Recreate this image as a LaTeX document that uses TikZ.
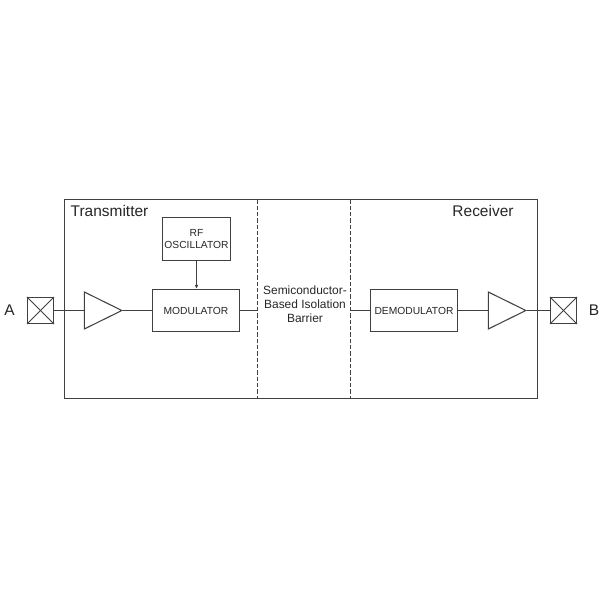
\documentclass[tikz,border=0pt]{standalone}
\usepackage{fontspec}
\setmainfont{Liberation Sans}
\usetikzlibrary{arrows.meta,shapes.geometric}
\definecolor{inkline}{HTML}{404040}
\definecolor{inktext}{HTML}{262626}
\tikzset{
	every node/.append style={text=inktext},
	wire/.style = {draw=inkline, line width=0.75pt},
	block/.style = {
			rectangle,
			draw=inkline,
			line width=0.75pt,
			inner sep=0pt,
			align=center,
			font=\fontsize{7.3}{9.2}\selectfont,
		},
	pad/.style = {
			rectangle,
			draw=inkline,
			line width=0.75pt,
			inner sep=0pt,
			minimum size=0.65cm,
		},
	amp/.style = {
			isosceles triangle,
			isosceles triangle stretches,
			draw=inkline,
			line width=0.75pt,
			inner sep=0pt,
			minimum width=0.925cm,
			minimum height=0.9375cm,
			anchor=apex,
		},
	title/.style = {font=\fontsize{11}{13}\selectfont, inner sep=0pt},
}
\begin{document}
\begin{tikzpicture}
		\useasboundingbox (0,0) rectangle (15,15);

		\node[block,minimum width=11.825cm,minimum height=4.975cm] at (7.525,7.525) (chip) {};
		\node[title] at (2.7375,9.725) (transmitter) {Transmitter};
		\node[title] at (12.075,9.725) (receiver) {Receiver};

		\node[pad] at (1.0125,7.2375) (pada) {};
		\node[pad] at (14.0875,7.2375) (padb) {};
		\node[title] at (0.2375,7.25) (labela) {A};
		\node[title] at (14.85,7.25) (labelb) {B};

		\node[amp] at (3.08,7.2375) (amptx) {};
		\node[amp] at (13.18,7.2375) (amprx) {};

		\node[block,minimum width=2.175cm,minimum height=1.05cm] at (4.9,7.2375) (modulator) {MODULATOR};
		\node[block,minimum width=1.7cm,minimum height=1.075cm] at (4.9125,9.025) (oscillator) {RF\\OSCILLATOR};
		\node[block,minimum width=2.175cm,minimum height=1.05cm] at (10.35,7.2375) (demodulator) {DEMODULATOR};

		\node[align=center,inner sep=0pt,font=\fontsize{8.5}{10}\selectfont] at (7.625,7.4) (barrier) {Semiconductor-\\Based Isolation\\Barrier};

		\coordinate (bartopl) at (6.4375,10.0125);
		\coordinate (barbotl) at (6.4375,5.0375);
		\coordinate (bartopr) at (8.7625,10.0125);
		\coordinate (barbotr) at (8.7625,5.0375);
		\coordinate (barinl) at (6.4375,7.2375);
		\coordinate (barinr) at (8.7625,7.2375);

		\draw[wire,dash pattern=on 3pt off 1.5pt] (bartopl) -- (barbotl);
		\draw[wire,dash pattern=on 3pt off 1.5pt] (bartopr) -- (barbotr);

		\draw[wire] (pada.north west) -- (pada.south east);
		\draw[wire] (pada.south west) -- (pada.north east);
		\draw[wire] (padb.north west) -- (padb.south east);
		\draw[wire] (padb.south west) -- (padb.north east);

		\draw[wire] (pada) -- (amptx);
		\draw[wire] (amptx.apex) -- (modulator);
		\draw[wire] (modulator) -- (barinl);
		\draw[wire] (barinr) -- (demodulator);
		\draw[wire] (demodulator) -- (amprx);
		\draw[wire] (amprx.apex) -- (padb);
		\draw[wire,-{Latex[length=3pt,width=2.6pt]}] (oscillator.south) -- (oscillator.south |- modulator.north);
	\end{tikzpicture}
\end{document}
